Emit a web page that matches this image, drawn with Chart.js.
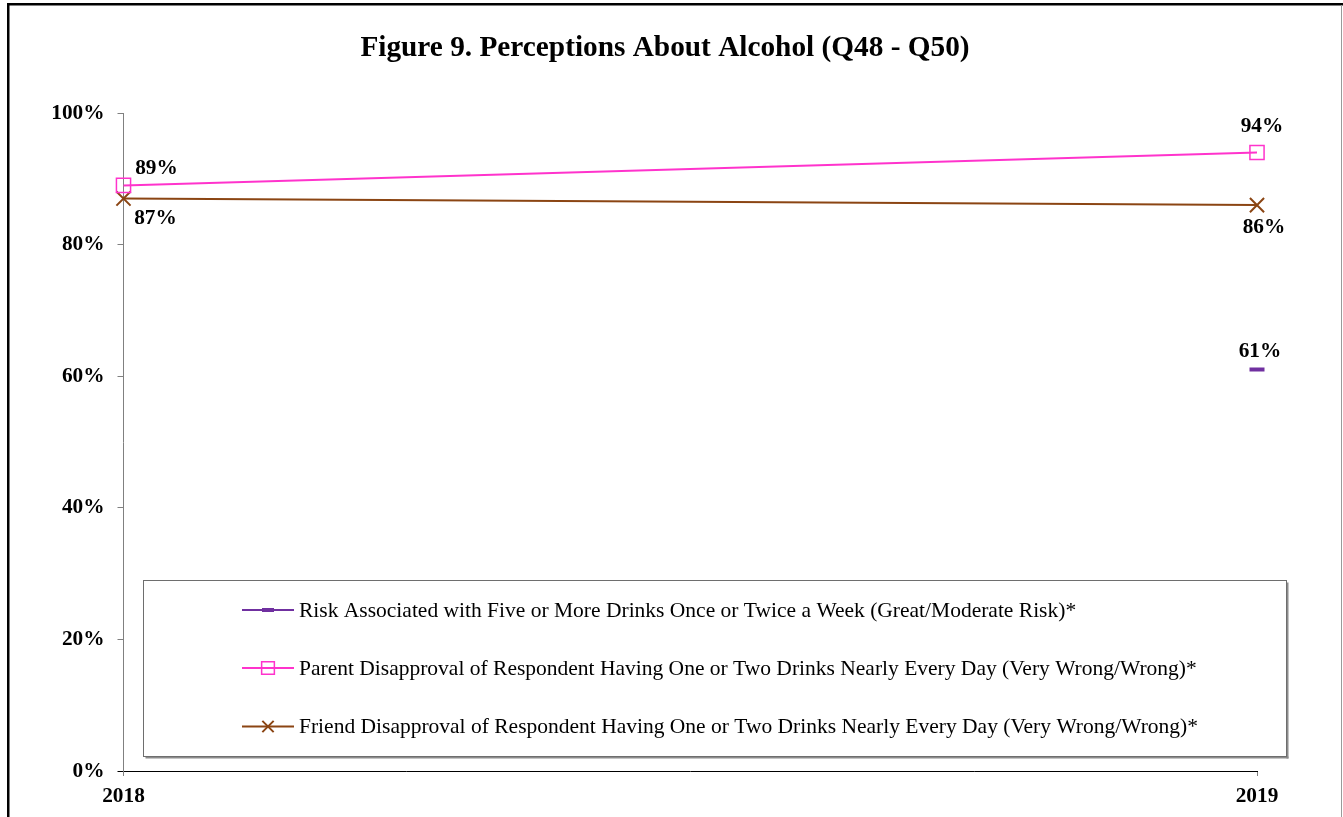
<!DOCTYPE html>
<html>
<head>
<meta charset="utf-8">
<title>Figure 9. Perceptions About Alcohol</title>
<script src="https://cdn.jsdelivr.net/npm/chart.js@4/dist/chart.umd.min.js"></script>
<style>
  html, body { margin: 0; padding: 0; background: #ffffff; }
  #wrap { width: 1343px; height: 817px; position: relative; }
</style>
</head>
<body>
<div id="wrap"><canvas id="chart" width="1343" height="817"></canvas></div>
<script>
// Survey years on the x axis
const years = ['2018', '2019'];

// Percent of respondents per year (null = not asked that year)
const riskFiveDrinks = [null, 61];
const parentDisapproval = [89, 94];
const friendDisapproval = [87, 86];

// Y axis ticks
const yTicks = [0, 20, 40, 60, 80, 100];

const seriesNames = [
  'Risk Associated with Five or More Drinks Once or Twice a Week (Great/Moderate Risk)*',
  'Parent Disapproval of Respondent Having One or Two Drinks Nearly Every Day (Very Wrong/Wrong)*',
  'Friend Disapproval of Respondent Having One or Two Drinks Nearly Every Day (Very Wrong/Wrong)*'
];

const chartTitle = 'Figure 9. Perceptions About Alcohol (Q48 - Q50)';

const SERIF = "'Liberation Serif', 'Times New Roman', serif";

// White page, outer frame and the title
const framePlugin = {
  id: 'frame',
  beforeDraw(chart) {
    const ctx = chart.ctx;
    ctx.save();
    ctx.fillStyle = '#ffffff';
    ctx.fillRect(0, 0, chart.width, chart.height);
    ctx.fillStyle = '#000000';
    ctx.fillRect(7, 3, chart.width - 7, 2.5);
    ctx.fillRect(7, 3, 2.5, chart.height - 3);
    ctx.fillStyle = '#9a9a9a';
    ctx.fillRect(1341, 5, 1, chart.height - 5);

    ctx.fillStyle = '#000000';
    ctx.font = 'bold 29.3px ' + SERIF;
    ctx.textAlign = 'center';
    ctx.textBaseline = 'middle';
    ctx.fillText(chartTitle, 665, 48);
    ctx.restore();
  }
};

// Percent labels next to each point
const valueLabelPlugin = {
  id: 'valueLabels',
  afterDatasetsDraw(chart) {
    const ctx = chart.ctx;
    ctx.save();
    ctx.font = 'bold 21.3px ' + SERIF;
    ctx.fillStyle = '#000000';
    ctx.textAlign = 'center';
    ctx.textBaseline = 'middle';
    chart.data.datasets.forEach((ds, di) => {
      const meta = chart.getDatasetMeta(di);
      const off = ds.labelOffset || { dx: [0, 0], dy: [0, 0] };
      meta.data.forEach((pt, i) => {
        const v = ds.data[i];
        if (v === null || v === undefined) return;
        ctx.fillText(v + '%', pt.x + off.dx[i], pt.y + off.dy[i]);
      });
    });
    ctx.restore();
  }
};

// Boxed legend inside the plot area
const boxLegendPlugin = {
  id: 'boxLegend',
  afterDraw(chart) {
    const ctx = chart.ctx;
    const H = Chart.helpers;
    const left = 143.5, top = 580.5, right = 1286.5, bottom = 756.5;
    ctx.save();
    // shadow
    ctx.fillStyle = '#8c8c8c';
    ctx.fillRect(left + 2, bottom, right - left, 2);
    ctx.fillRect(right, top + 2, 2, bottom - top);
    ctx.fillStyle = '#ffffff';
    ctx.fillRect(left, top, right - left, bottom - top);
    ctx.strokeStyle = '#6e6e6e';
    ctx.lineWidth = 1;
    ctx.strokeRect(left, top, right - left, bottom - top);

    const rows = [610, 668, 726.5];
    ctx.font = '21.5px ' + SERIF;
    ctx.textAlign = 'left';
    ctx.textBaseline = 'middle';
    chart.data.datasets.forEach((ds, i) => {
      const y = rows[i];
      ctx.strokeStyle = ds.borderColor;
      ctx.lineWidth = 2;
      ctx.beginPath();
      ctx.moveTo(242, y);
      ctx.lineTo(294, y);
      ctx.stroke();
      ctx.strokeStyle = ds.pointBorderColor || ds.borderColor;
      ctx.fillStyle = ds.pointBackgroundColor || 'rgba(0,0,0,0)';
      ctx.lineWidth = ds.pointBorderWidth;
      H.drawPoint(ctx, {
        pointStyle: ds.pointStyle,
        rotation: 0,
        radius: ds.legendPointRadius,
        borderWidth: ds.pointBorderWidth
      }, 268, y);
      ctx.fillStyle = '#000000';
      ctx.fillText(ds.label, 299, y + 1);
    });
    ctx.restore();
  }
};

const ctx = document.getElementById('chart').getContext('2d');
new Chart(ctx, {
  type: 'line',
  data: {
    labels: years,
    datasets: [
      {
        label: seriesNames[0],
        data: riskFiveDrinks,
        borderColor: '#7030A0',
        borderWidth: 2,
        pointStyle: 'line',
        pointRadius: 7.5,
        legendPointRadius: 6,
        pointBorderWidth: 4,
        pointBorderColor: '#7030A0',
        pointBackgroundColor: '#7030A0',
        labelOffset: { dx: [0, 3], dy: [0, -18] }
      },
      {
        label: seriesNames[1],
        data: parentDisapproval,
        borderColor: '#FF33CC',
        borderWidth: 2,
        pointStyle: 'rect',
        pointRadius: 10,
        legendPointRadius: 9,
        pointBorderWidth: 1.5,
        pointBorderColor: '#FF33CC',
        pointBackgroundColor: 'rgba(255,255,255,0)',
        labelOffset: { dx: [33, 5], dy: [-17, -26] }
      },
      {
        label: seriesNames[2],
        data: friendDisapproval,
        borderColor: '#8B4513',
        borderWidth: 2,
        pointStyle: 'crossRot',
        pointRadius: 10,
        legendPointRadius: 8,
        pointBorderWidth: 2,
        pointBorderColor: '#8B4513',
        pointBackgroundColor: '#8B4513',
        labelOffset: { dx: [32, 7], dy: [20, 22] }
      }
    ]
  },
  options: {
    responsive: false,
    animation: false,
    events: [],
    spanGaps: false,
    layout: { padding: { left: 8, right: 86, top: 113, bottom: 0 } },
    plugins: {
      legend: { display: false },
      tooltip: { enabled: false },
      title: { display: false }
    },
    scales: {
      x: {
        type: 'category',
        offset: false,
        grid: {
          display: true,
          drawOnChartArea: false,
          drawTicks: true,
          tickLength: 5,
          tickColor: '#808080'
        },
        border: { display: true, color: '#000000', width: 1 },
        ticks: {
          color: '#000000',
          font: { family: SERIF, size: 21.3, weight: 'bold' },
          padding: 8,
          maxRotation: 0
        },
        afterFit(scale) { scale.height = 46; }
      },
      y: {
        min: 0,
        max: 100,
        afterBuildTicks(scale) { scale.ticks = yTicks.map(v => ({ value: v })); },
        grid: {
          display: true,
          drawOnChartArea: false,
          drawTicks: true,
          tickLength: 6,
          tickColor: (c) => (c.tick && c.tick.value === 0 ? '#000000' : '#808080')
        },
        border: { display: true, color: '#808080', width: 1 },
        ticks: {
          color: '#000000',
          font: { family: SERIF, size: 21.3, weight: 'bold' },
          padding: 13,
          callback: (v) => v + '%'
        },
        afterFit(scale) { scale.width = 115.5; }
      }
    }
  },
  plugins: [framePlugin, valueLabelPlugin, boxLegendPlugin]
});
</script>
</body>
</html>
